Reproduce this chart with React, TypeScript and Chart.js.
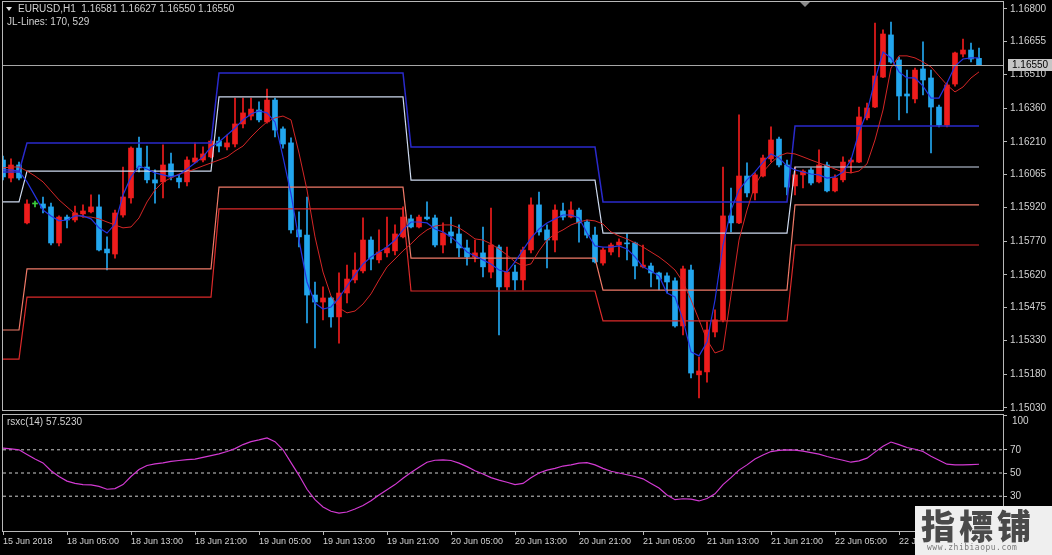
import React, { useEffect, useRef } from "react";
import { Chart, registerables } from "chart.js";
Chart.register(...registerables);

// ---------- DATA ----------
const tickLabels = [
  "15 Jun 2018", "18 Jun 05:00", "18 Jun 13:00", "18 Jun 21:00", "19 Jun 05:00",
  "19 Jun 13:00", "19 Jun 21:00", "20 Jun 05:00", "20 Jun 13:00", "20 Jun 21:00",
  "21 Jun 05:00", "21 Jun 13:00", "21 Jun 21:00", "22 Jun 05:00", "22 Jun 13:00",
];
const barsPerTick = 8;
const totalSlots = 126; // 123 bars + chart shift

const opens = [
  1.16130, 1.16050, 1.16108, 1.15851, 1.15935, 1.15935, 1.15922, 1.15762, 1.15877, 1.15864,
  1.15891, 1.15900, 1.15922, 1.15735, 1.15713, 1.15886, 1.15962, 1.16183, 1.16099, 1.16042,
  1.16033, 1.16113, 1.16050, 1.16033, 1.16121, 1.16130, 1.16144, 1.16214, 1.16188, 1.16201,
  1.16290, 1.16325, 1.16352, 1.16299, 1.16396, 1.16268, 1.16206, 1.15820, 1.15797, 1.15531,
  1.15500, 1.15518, 1.15434, 1.15540, 1.15598, 1.15638, 1.15775, 1.15687, 1.15718, 1.15727,
  1.15789, 1.15869, 1.15833, 1.15877, 1.15873, 1.15753, 1.15811, 1.15802, 1.15740, 1.15700,
  1.15718, 1.15633, 1.15744, 1.15567, 1.15633, 1.15598, 1.15731, 1.15931, 1.15820, 1.15775,
  1.15904, 1.15877, 1.15908, 1.15855, 1.15797, 1.15673, 1.15722, 1.15753, 1.15762, 1.15762,
  1.15656, 1.15660, 1.15629, 1.15616, 1.15594, 1.15394, 1.15642, 1.15177, 1.15190, 1.15367,
  1.15421, 1.15882, 1.15851, 1.16059, 1.15984, 1.16059, 1.16135, 1.16223, 1.16108, 1.16015,
  1.16064, 1.16086, 1.16033, 1.16108, 1.15993, 1.16042, 1.16121, 1.16121, 1.16317, 1.16365,
  1.16498, 1.16685, 1.16574, 1.16423, 1.16401, 1.16534, 1.16494, 1.16365, 1.16285, 1.16467,
  1.16600, 1.16618, 1.16581,
];
const highs = [
  1.16148, 1.16135, 1.16121, 1.15953, 1.15948, 1.15966, 1.15939, 1.15882, 1.15886, 1.15926,
  1.15931, 1.15975, 1.15975, 1.15789, 1.15908, 1.16099, 1.16188, 1.16232, 1.16192, 1.16086,
  1.16197, 1.16161, 1.16064, 1.16144, 1.16206, 1.16188, 1.16219, 1.16232, 1.16241, 1.16405,
  1.16405, 1.16405, 1.16388, 1.16445, 1.16405, 1.16277, 1.16228, 1.15900, 1.15966, 1.15589,
  1.15567, 1.15523, 1.15629, 1.15664, 1.15718, 1.15873, 1.15789, 1.15820, 1.15877, 1.15842,
  1.15922, 1.15886, 1.15886, 1.15944, 1.15886, 1.15851, 1.15877, 1.15842, 1.15775, 1.15775,
  1.15833, 1.15917, 1.15753, 1.15744, 1.15664, 1.15744, 1.15962, 1.15988, 1.15842, 1.15931,
  1.15939, 1.15944, 1.15917, 1.15864, 1.15833, 1.15740, 1.15762, 1.15780, 1.15802, 1.15766,
  1.15753, 1.15673, 1.15633, 1.15629, 1.15607, 1.15660, 1.15664, 1.15256, 1.15412, 1.15465,
  1.16099, 1.16006, 1.16330, 1.16117, 1.16073, 1.16152, 1.16277, 1.16232, 1.16130, 1.16099,
  1.16086, 1.16095, 1.16175, 1.16121, 1.16064, 1.16144, 1.16139, 1.16365, 1.16383, 1.16738,
  1.16707, 1.16742, 1.16587, 1.16529, 1.16538, 1.16654, 1.16529, 1.16374, 1.16472, 1.16609,
  1.16667, 1.16649, 1.16627,
];
const lows = [
  1.16042, 1.16033, 1.16042, 1.15846, 1.15922, 1.15895, 1.15753, 1.15749, 1.15829, 1.15855,
  1.15877, 1.15895, 1.15727, 1.15642, 1.15695, 1.15877, 1.15939, 1.16077, 1.16028, 1.15939,
  1.15962, 1.16042, 1.16006, 1.16015, 1.16117, 1.16121, 1.16139, 1.16166, 1.16175, 1.16188,
  1.16272, 1.16308, 1.16299, 1.16294, 1.16232, 1.16183, 1.15806, 1.15744, 1.15407, 1.15296,
  1.15421, 1.15389, 1.15318, 1.15496, 1.15585, 1.15629, 1.15642, 1.15673, 1.15700, 1.15709,
  1.15784, 1.15829, 1.15829, 1.15864, 1.15744, 1.15718, 1.15762, 1.15700, 1.15664, 1.15678,
  1.15611, 1.15607, 1.15354, 1.15554, 1.15554, 1.15554, 1.15718, 1.15797, 1.15651, 1.15722,
  1.15864, 1.15873, 1.15766, 1.15784, 1.15673, 1.15664, 1.15709, 1.15700, 1.15687, 1.15602,
  1.15651, 1.15567, 1.15554, 1.15540, 1.15389, 1.15354, 1.15163, 1.15075, 1.15145, 1.15345,
  1.15412, 1.15811, 1.15848, 1.15966, 1.15953, 1.16055, 1.16121, 1.16099, 1.15975, 1.15975,
  1.16006, 1.16019, 1.16028, 1.15988, 1.15988, 1.16033, 1.16073, 1.16118, 1.16308, 1.16362,
  1.16495, 1.16560, 1.16308, 1.16339, 1.16383, 1.16419, 1.16161, 1.16277, 1.16277, 1.16458,
  1.16587, 1.16565, 1.16550,
];
const closes = [
  1.16055, 1.16108, 1.16050, 1.15935, 1.15935, 1.15917, 1.15762, 1.15877, 1.15864, 1.15895,
  1.15904, 1.15922, 1.15731, 1.15718, 1.15895, 1.15966, 1.16183, 1.16095, 1.16042, 1.16028,
  1.16108, 1.16055, 1.16033, 1.16130, 1.16139, 1.16157, 1.16214, 1.16192, 1.16206, 1.16290,
  1.16339, 1.16356, 1.16308, 1.16396, 1.16263, 1.16201, 1.15820, 1.15789, 1.15531, 1.15500,
  1.15518, 1.15434, 1.15540, 1.15602, 1.15642, 1.15775, 1.15691, 1.15722, 1.15740, 1.15802,
  1.15877, 1.15833, 1.15877, 1.15869, 1.15753, 1.15806, 1.15793, 1.15740, 1.15700, 1.15718,
  1.15656, 1.15753, 1.15567, 1.15633, 1.15598, 1.15731, 1.15931, 1.15811, 1.15775, 1.15908,
  1.15877, 1.15908, 1.15851, 1.15797, 1.15678, 1.15731, 1.15753, 1.15766, 1.15758, 1.15660,
  1.15664, 1.15629, 1.15602, 1.15589, 1.15394, 1.15647, 1.15185, 1.15194, 1.15376, 1.15421,
  1.15882, 1.15851, 1.16059, 1.15984, 1.16064, 1.16139, 1.16219, 1.16108, 1.16010, 1.16064,
  1.16081, 1.16028, 1.16108, 1.15993, 1.16050, 1.16121, 1.16130, 1.16321, 1.16361, 1.16503,
  1.16689, 1.16565, 1.16414, 1.16414, 1.16529, 1.16485, 1.16365, 1.16285, 1.16463, 1.16605,
  1.16618, 1.16578, 1.16550,
];

// fast (blue) and slow (red) moving lines
const maFast = [
  1.16086, 1.16086, 1.16081, 1.16033, 1.15971, 1.15908, 1.15882, 1.15860, 1.15864, 1.15882,
  1.15882, 1.15869, 1.15829, 1.15806, 1.15846, 1.15975, 1.16055, 1.16104, 1.16090, 1.16073,
  1.16064, 1.16055, 1.16064, 1.16090, 1.16117, 1.16144, 1.16188, 1.16210, 1.16241, 1.16272,
  1.16308, 1.16334, 1.16348, 1.16339, 1.16299, 1.16144, 1.15979, 1.15775, 1.15589, 1.15496,
  1.15469, 1.15478, 1.15518, 1.15571, 1.15620, 1.15669, 1.15700, 1.15722, 1.15744, 1.15775,
  1.15820, 1.15855, 1.15855, 1.15851, 1.15824, 1.15811, 1.15789, 1.15758, 1.15722, 1.15704,
  1.15687, 1.15669, 1.15642, 1.15633, 1.15678, 1.15731, 1.15784, 1.15824, 1.15851, 1.15869,
  1.15886, 1.15886, 1.15873, 1.15806, 1.15749, 1.15744, 1.15744, 1.15749, 1.15735, 1.15700,
  1.15656, 1.15638, 1.15616, 1.15540, 1.15523, 1.15421, 1.15279, 1.15261, 1.15323, 1.15509,
  1.15753, 1.15908, 1.15997, 1.16042, 1.16077, 1.16121, 1.16157, 1.16139, 1.16104, 1.16086,
  1.16077, 1.16068, 1.16064, 1.16050, 1.16055, 1.16077, 1.16130, 1.16254, 1.16343, 1.16485,
  1.16609, 1.16583, 1.16521, 1.16494, 1.16494, 1.16458, 1.16405, 1.16405, 1.16472, 1.16547,
  1.16578, 1.16583, 1.16583,
];
const maSlow = [
  1.16095, 1.16099, 1.16099, 1.16081, 1.16059, 1.16033, 1.15993, 1.15953, 1.15922, 1.15891,
  1.15877, 1.15877, 1.15869, 1.15855, 1.15842, 1.15829, 1.15833, 1.15873, 1.15944, 1.15997,
  1.16033, 1.16050, 1.16068, 1.16077, 1.16090, 1.16104, 1.16117, 1.16130, 1.16144, 1.16170,
  1.16192, 1.16232, 1.16268, 1.16299, 1.16317, 1.16325, 1.16308, 1.16161, 1.15997, 1.15789,
  1.15633, 1.15527, 1.15474, 1.15452, 1.15460, 1.15491, 1.15536, 1.15598, 1.15656, 1.15691,
  1.15727, 1.15758, 1.15793, 1.15820, 1.15837, 1.15842, 1.15842, 1.15829, 1.15806, 1.15780,
  1.15775, 1.15758, 1.15735, 1.15709, 1.15678, 1.15660, 1.15669, 1.15727, 1.15775, 1.15802,
  1.15820, 1.15842, 1.15855, 1.15864, 1.15860, 1.15846, 1.15811, 1.15793, 1.15780, 1.15762,
  1.15744, 1.15722, 1.15700, 1.15673, 1.15642, 1.15589, 1.15509, 1.15421, 1.15332, 1.15274,
  1.15287, 1.15531, 1.15775, 1.15908, 1.16019, 1.16077, 1.16117, 1.16148, 1.16161, 1.16157,
  1.16144, 1.16130, 1.16117, 1.16104, 1.16090, 1.16077, 1.16073, 1.16081, 1.16113, 1.16219,
  1.16352, 1.16538, 1.16592, 1.16592, 1.16583, 1.16565, 1.16543, 1.16503, 1.16463, 1.16432,
  1.16454, 1.16494, 1.16521,
];

// JL-Lines: one level per trading day, bars per day segment
const jlDaySpans = [3, 24, 24, 24, 24, 24];
const jlBlue = [1.16077, 1.16206, 1.16516, 1.16188, 1.15944, 1.16281];
const jlWhite = [1.15944, 1.16081, 1.16410, 1.16041, 1.15806, 1.16099];
const jlSalmon = [1.15376, 1.15647, 1.16010, 1.15695, 1.15553, 1.15931];
const jlRed = [1.15247, 1.15522, 1.15913, 1.15549, 1.15416, 1.15753];

const rsx = [
  71.5, 70.8, 70, 66, 62, 58.7, 52, 47, 43, 41,
  40, 39.8, 38.5, 36, 36.5, 40, 47, 53, 56.5, 57.8,
  58.8, 60, 60.8, 61.5, 62, 63.5, 65, 66.5, 68.5, 71,
  74.5, 77, 78.5, 80.2, 77, 70, 59, 48, 36, 27,
  20.7, 17, 15.5, 16.4, 19, 22, 26, 31, 35.5, 40,
  45.5, 50.5, 55, 59.3, 61, 61.3, 60.8, 58.5, 55.5, 52,
  49.1, 46, 43.9, 42, 40, 41, 46, 50, 52.5, 54,
  56, 57, 58.5, 59, 57, 54, 51.5, 50, 48.5, 47,
  45, 41, 37, 31, 27, 27.8, 27.5, 25.9, 28, 32,
  40, 46, 52.5, 57, 62, 65.5, 68.5, 69.5, 70, 69.8,
  68.8, 67.5, 66.2, 64.2, 62.5, 61, 59.3, 60.5, 62.8, 68,
  73, 76.7, 74.5, 72, 70.5, 68.5, 64.5, 61, 57.6, 57,
  57, 57.3, 57.523,
];
const rsxLevels = [70, 50, 30];
const rsxTicks = [100, 70, 50, 30];
const rsxTop = 100;
const priceTicks = [
  1.168, 1.16655, 1.1651, 1.1636, 1.1621, 1.16065, 1.1592,
  1.1577, 1.1562, 1.15475, 1.1533, 1.1518, 1.1503,
];
const lastPrice = 1.1655;
const priceMin = 1.15021;
const priceMax = 1.16831;

// ---------- STYLE ----------
const BULL = "#ee1c1c";
const BEAR = "#22a6ee";
const DOJI = "#3ccf3c";
const AXIS = "#b8b8b8";
const TEXT = "#d2d2d2";
const FONT = "Liberation Sans";

const expandDays = (levels: number[]) => {
  const out: number[] = [];
  levels.forEach((v, k) => {
    for (let j = 0; j < jlDaySpans[k]; j++) out.push(v);
  });
  return out;
};

const framePlugin = {
  id: "frame",
  afterDraw(chart: any) {
    const { ctx, chartArea: a } = chart;
    ctx.save();
    ctx.strokeStyle = AXIS;
    ctx.lineWidth = 1;
    ctx.strokeRect(a.left - 0.5, a.top - 0.5, a.right - a.left + 1, a.bottom - a.top + 1);
    ctx.restore();
  },
};

const priceLinePlugin = {
  id: "priceLine",
  afterDatasetsDraw(chart: any) {
    const { ctx, chartArea: a, scales } = chart;
    const y = Math.round(scales.y.getPixelForValue(lastPrice)) + 0.5;
    ctx.save();
    ctx.strokeStyle = "#a6a6a6";
    ctx.lineWidth = 1;
    ctx.beginPath();
    ctx.moveTo(a.left, y);
    ctx.lineTo(a.right, y);
    ctx.stroke();
    ctx.restore();
  },
  afterDraw(chart: any) {
    const { ctx, chartArea: a, scales } = chart;
    const y = Math.round(scales.y.getPixelForValue(lastPrice));
    ctx.save();
    ctx.fillStyle = "#c6c6c6";
    ctx.fillRect(a.right + 5, y - 6, 46, 12);
    ctx.fillStyle = "#000";
    ctx.font = `10px "${FONT}"`;
    ctx.textBaseline = "middle";
    ctx.fillText(lastPrice.toFixed(5), a.right + 9, y + 0.5);
    ctx.restore();
  },
};

// top label of the oscillator scale is nudged inside the panel, as in the terminal
const topLabelPlugin = {
  id: "topLabel",
  afterDraw(chart: any) {
    const { ctx, chartArea: a, scales } = chart;
    const y = scales.y.getPixelForValue(rsxTop);
    ctx.save();
    ctx.fillStyle = TEXT;
    ctx.font = `10px "${FONT}"`;
    ctx.textBaseline = "middle";
    ctx.fillText(String(rsxTop), a.right + 9, y + 6);
    ctx.restore();
  },
};

const fitY = (s: any) => {
  s.width = 49;
  s.paddingTop = 0;
  s.paddingBottom = 0;
};

export default function App() {
  const mainRef = useRef<HTMLCanvasElement | null>(null);
  const subRef = useRef<HTMLCanvasElement | null>(null);

  useEffect(() => {
    document.body.style.margin = "0";
    document.body.style.background = "#000";
    Chart.defaults.font.family = FONT;

    const labels = Array.from({ length: totalSlots }, (_, i) => String(i));
    const colors = opens.map((o, i) =>
      closes[i] > o ? BULL : closes[i] < o ? BEAR : DOJI
    );
    const bodies = opens.map((o, i) => [o, closes[i]]);
    const wicks = lows.map((l, i) => [l, highs[i]]);

    const line = (data: number[], color: string, width = 1) => ({
      type: "line" as const,
      data,
      borderColor: color,
      borderWidth: width,
      pointRadius: 0,
      tension: 0,
      fill: false,
      order: 0,
    });

    const main = new Chart(mainRef.current!, {
      type: "bar",
      data: {
        labels,
        datasets: [
          line(maFast, "#2434e0", 1.2) as any,
          line(maSlow, "#d42626", 1) as any,
          line(expandDays(jlBlue), "#2a2acc", 1.5) as any,
          line(expandDays(jlWhite), "#cdd9ee", 1.2) as any,
          line(expandDays(jlSalmon), "#f07a68", 1.2) as any,
          line(expandDays(jlRed), "#dc2a2a", 1.2) as any,
          {
            type: "bar",
            data: bodies as any,
            backgroundColor: colors,
            borderWidth: 0,
            barThickness: 5,
            minBarLength: 1,
            grouped: false,
            order: 5,
          } as any,
          {
            type: "bar",
            data: wicks as any,
            backgroundColor: colors,
            borderWidth: 0,
            barThickness: 1,
            grouped: false,
            order: 6,
          } as any,
        ],
      },
      options: {
        animation: false,
        responsive: false,
        maintainAspectRatio: false,
        layout: { padding: { left: 3, top: 2, right: 0, bottom: 2 } },
        plugins: { legend: { display: false }, tooltip: { enabled: false } },
        scales: {
          x: { display: false, offset: false, grid: { display: false } },
          y: {
            position: "right",
            min: priceMin,
            max: priceMax,
            afterFit: fitY,
            afterBuildTicks(s: any) {
              s.ticks = priceTicks.map((v) => ({ value: v }));
            },
            ticks: {
              callback: (v: any) => Number(v).toFixed(5),
              color: TEXT,
              font: { size: 10, family: FONT },
              padding: 3,
              autoSkip: false,
            },
            grid: { drawOnChartArea: false, color: AXIS, tickLength: 4 },
            border: { color: AXIS },
          },
        },
      },
      plugins: [framePlugin, priceLinePlugin],
    });

    const levelSets = rsxLevels.map((lv) => ({
      type: "line" as const,
      data: labels.map(() => lv),
      borderColor: "#cfcfcf",
      borderWidth: 1,
      borderDash: [3, 3],
      pointRadius: 0,
      order: 2,
    }));

    const sub = new Chart(subRef.current!, {
      type: "line",
      data: {
        labels,
        datasets: [
          {
            data: rsx,
            borderColor: "#d23ad2",
            borderWidth: 1.2,
            pointRadius: 0,
            tension: 0,
            order: 0,
          },
          ...levelSets,
        ] as any,
      },
      options: {
        animation: false,
        responsive: false,
        maintainAspectRatio: false,
        layout: { padding: { left: 3, top: 3, right: 0, bottom: 0 } },
        plugins: { legend: { display: false }, tooltip: { enabled: false } },
        scales: {
          x: {
            offset: false,
            afterFit(s: any) {
              s.height = 24;
              s.paddingLeft = 0;
              s.paddingRight = 0;
            },
            afterBuildTicks(s: any) {
              s.ticks = s.ticks.filter(
                (t: any) => t.value % barsPerTick === 0 && t.value / barsPerTick < tickLabels.length
              );
            },
            ticks: {
              autoSkip: false,
              maxRotation: 0,
              minRotation: 0,
              align: "start",
              padding: 1,
              color: TEXT,
              font: { size: 9, family: FONT },
              callback: (v: any) => tickLabels[Number(v) / barsPerTick] ?? "",
            },
            grid: { drawOnChartArea: false, color: AXIS, tickLength: 4 },
            border: { color: AXIS },
          },
          y: {
            position: "right",
            min: 0,
            max: 100,
            afterFit: fitY,
            afterBuildTicks(s: any) {
              s.ticks = rsxTicks.map((v) => ({ value: v }));
            },
            ticks: {
              color: TEXT,
              font: { size: 10, family: FONT },
              padding: 3,
              autoSkip: false,
              callback: (v: any) => (Number(v) === rsxTop ? "" : String(v)),
            },
            grid: { drawOnChartArea: false, color: AXIS, tickLength: 4 },
            border: { color: AXIS },
          },
        },
      },
      plugins: [framePlugin, topLabelPlugin],
    });

    return () => {
      main.destroy();
      sub.destroy();
    };
  }, []);

  const txt: React.CSSProperties = {
    position: "absolute",
    color: TEXT,
    fontFamily: FONT,
    fontSize: 10,
    lineHeight: "12px",
    whiteSpace: "pre",
  };

  return (
    <div style={{ position: "relative", width: 1052, height: 555, background: "#000", overflow: "hidden" }}>
      <canvas ref={mainRef} width={1052} height={412} style={{ position: "absolute", left: 0, top: 0, display: "block" }} />
      <canvas ref={subRef} width={1052} height={143} style={{ position: "absolute", left: 0, top: 412, display: "block" }} />
      <div style={{ position: "absolute", left: 6, top: 7, width: 0, height: 0, borderLeft: "3.5px solid transparent", borderRight: "3.5px solid transparent", borderTop: "4px solid #e0e0e0" }} />
      <div style={{ ...txt, left: 18, top: 3 }}>EURUSD,H1  1.16581 1.16627 1.16550 1.16550</div>
      <div style={{ ...txt, left: 7, top: 16 }}>JL-Lines: 170, 529</div>
      <div style={{ position: "absolute", left: 800, top: 2, width: 0, height: 0, borderLeft: "5px solid transparent", borderRight: "5px solid transparent", borderTop: "5px solid #8a8a8a" }} />
      <div style={{ ...txt, left: 7, top: 416 }}>rsxc(14) 57.5230</div>
      <div style={{ position: "absolute", left: 915, top: 506, width: 137, height: 49, background: "#efefef" }}>
        <div style={{ position: "absolute", left: 6, top: 0, fontFamily: "Noto Sans CJK SC", fontWeight: 900, fontSize: 34, lineHeight: "38px", color: "#4a4a4a", letterSpacing: 4 }}>指標铺</div>
        <div style={{ position: "absolute", left: 12, top: 37, fontFamily: "DejaVu Sans Mono", fontSize: 8, lineHeight: "10px", color: "#7a7a7a", letterSpacing: 0.5 }}>www.zhibiaopu.com</div>
      </div>
    </div>
  );
}
